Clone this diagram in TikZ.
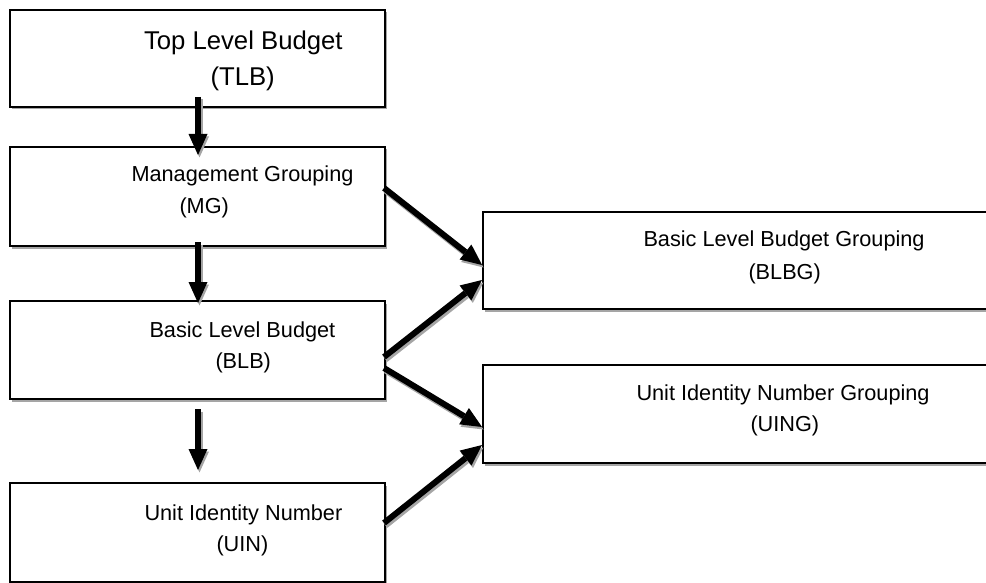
\documentclass[tikz,border=0pt]{standalone}
\usepackage{fontspec}
\setmainfont{Liberation Sans}
\usetikzlibrary{arrows.meta,shadows}
\definecolor{shadowgray}{RGB}{165,165,165}
\tikzset{
  box/.style={draw=black, line width=1.2pt, fill=white, rectangle, inner sep=0pt, outer sep=0pt,
    drop shadow={shadow xshift=2pt, shadow yshift=-2.5pt, fill=shadowgray, opacity=1}},
  leftbox/.style={box, minimum width=375pt},
  rightbox/.style={box, minimum width=517pt},
  lbl/.style={anchor=base west, inner sep=0pt, outer sep=0pt, font=\fontsize{21.7}{26}\selectfont},
  biglbl/.style={lbl, font=\fontsize{25.7}{30}\selectfont},
  arr/.style={line width=6pt, -{Triangle[length=21pt,width=19pt,line width=0pt]}},
  arrshadow/.style={arr, draw=shadowgray, fill=shadowgray, transform canvas={xshift=1.5pt,yshift=-2.5pt}}
}
\newcommand\mylink[2]{\draw[arrshadow] (#1) -- (#2); \draw[arr] (#1) -- (#2);}
\begin{document}
\begin{tikzpicture}[x=1pt,y=-1pt]
\useasboundingbox (0,0) rectangle (986,583);
\clip (0,0) rectangle (986,583);
% boxes
\node[leftbox, minimum height=97pt] (tlb) at (197.5,58.5) {};
\node[leftbox, minimum height=99pt] (mg) at (197.5,196.5) {};
\node[leftbox, minimum height=98pt] (blb) at (197.5,350) {};
\node[leftbox, minimum height=99pt] (uin) at (197.5,532.5) {};
\node[rightbox, minimum height=97pt] (blbg) at (741.5,260.5) {};
\node[rightbox, minimum height=98pt] (uing) at (741.5,414) {};
% texts
\node[biglbl] (t1) at (144,50) {Top Level Budget};
\node[biglbl] (t2) at (210.5,86) {(TLB)};
\node[lbl] (m1) at (131.5,182) {Management Grouping};
\node[lbl] (m2) at (179.5,214) {(MG)};
\node[lbl] (b1) at (149.5,337) {Basic Level Budget};
\node[lbl] (b2) at (215.5,368) {(BLB)};
\node[lbl] (u1) at (144.5,520) {Unit Identity Number};
\node[lbl] (u2) at (216.5,551) {(UIN)};
\node[lbl] (g1) at (643.5,247) {Basic Level Budget Grouping};
\node[lbl] (g2) at (748.5,279) {(BLBG)};
\node[lbl] (n1) at (636.5,400) {Unit Identity Number Grouping};
\node[lbl] (n2) at (750.5,431) {(UING)};
% arrows
\mylink{[xshift=0.5pt,yshift=10pt]tlb.south}{[xshift=0.5pt,yshift=-8pt]mg.north}
\mylink{[xshift=0.5pt,yshift=4pt]mg.south}{[xshift=0.5pt,yshift=-2pt]blb.north}
\mylink{[xshift=0.5pt,yshift=-10pt]blb.south}{[xshift=0.5pt,yshift=13pt]uin.north}
\mylink{[xshift=-1pt,yshift=8.5pt]mg.east}{[xshift=-1pt,yshift=-4.5pt]blbg.west}
\mylink{[xshift=-1pt,yshift=-7pt]blb.east}{[xshift=-1pt,yshift=-19.5pt]blbg.west}
\mylink{[xshift=-1pt,yshift=-18pt]blb.east}{[xshift=-1pt,yshift=-13pt]uing.west}
\mylink{[xshift=-1pt,yshift=9.5pt]uin.east}{[xshift=-1pt,yshift=-31pt]uing.west}
\end{tikzpicture}
\end{document}
